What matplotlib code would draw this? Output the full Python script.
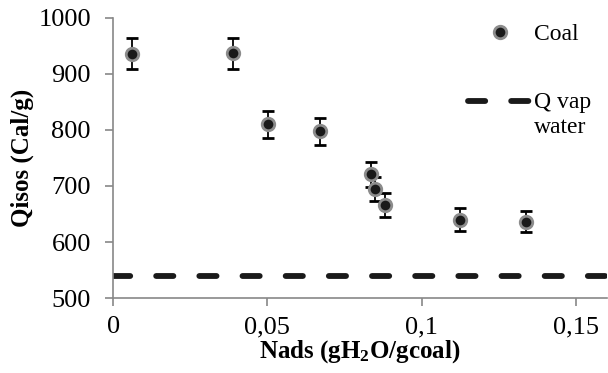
import matplotlib
matplotlib.use("Agg")
import matplotlib.pyplot as plt
from matplotlib.legend_handler import HandlerLine2D
from matplotlib.lines import Line2D

# Coal isosteric heat vs adsorbed water
nads = [0.0061, 0.0388, 0.0502, 0.0670, 0.0837, 0.0848, 0.0880, 0.1123, 0.1339]
qisos = [936, 937, 810, 798, 721, 695, 666, 640, 636]
qisos_err = [28, 28, 24, 24, 22, 21, 21, 20, 19]
q_vap_water = 540

x_ticks = [0, 0.05, 0.1, 0.15]
x_tick_labels = ["0", "0,05", "0,1", "0,15"]
y_ticks = [500, 600, 700, 800, 900, 1000]


class RaisedLineHandler(HandlerLine2D):
    """Line handle lined up with the first line of a two-line label."""

    def __init__(self, dy, **kw):
        super().__init__(**kw)
        self.dy = dy

    def create_artists(self, legend, orig_handle, xdescent, ydescent,
                       width, height, fontsize, trans):
        return super().create_artists(legend, orig_handle, xdescent,
                                      ydescent - 2 * self.dy, width, height,
                                      fontsize, trans)


plt.rcParams['font.family'] = ['Liberation Serif', 'DejaVu Serif']
plt.rcParams['mathtext.fontset'] = 'custom'
plt.rcParams['mathtext.rm'] = 'Liberation Serif:bold'
plt.rcParams['mathtext.it'] = 'Liberation Serif:bold'

fig = plt.figure(figsize=(6.08, 3.73), dpi=100)
ax = fig.add_axes([0.186, 0.201, 0.812, 0.751])

marker_style = dict(marker='o', markerfacecolor='#1a1a1a', markeredgecolor='#8c8c8c',
                    markeredgewidth=2, markersize=9)
dash_style = dict(color='#1a1a1a', linewidth=4.2, dashes=(2.95, 4.45),
                  dash_capstyle='round')

ax.errorbar(nads, qisos, yerr=qisos_err, fmt='o', color='black',
            ecolor='black', elinewidth=1.3, capsize=4, capthick=1.3,
            **marker_style)
ax.axhline(q_vap_water, **dash_style)

ax.set_xlim(0, 0.16)
ax.set_ylim(500, 1000)
ax.set_xticks(x_ticks)
ax.set_xticklabels(x_tick_labels)
ax.set_yticks(y_ticks)

for side in ['top', 'right']:
    ax.spines[side].set_visible(False)
for side in ['left', 'bottom']:
    ax.spines[side].set_color('#888888')
    ax.spines[side].set_linewidth(1.2)
ax.tick_params(axis='both', colors='#888888', labelcolor='black',
               labelsize=19, length=6, width=1.2, direction='out')
ax.tick_params(axis='x', pad=7)
ax.tick_params(axis='y', pad=10)

ax.set_xlabel("Nads (gH$_2$O/gcoal)", fontsize=18, fontweight='bold', labelpad=0)
ax.set_ylabel("Qisos (Cal/g)", fontsize=18, fontweight='bold', labelpad=3)

coal_handle = Line2D([], [], linestyle='none', **marker_style)
vap_handle = Line2D([], [], **dash_style)
ax.legend([coal_handle, vap_handle], ['Coal', 'Q vap\nwater'], loc='upper left',
          bbox_to_anchor=(0.675, 1.055), frameon=False, fontsize=17,
          handlelength=2.75, labelspacing=2.0, handletextpad=0.05,
          handler_map={vap_handle: RaisedLineHandler(10)})

fig.savefig("out.png", dpi=100)
